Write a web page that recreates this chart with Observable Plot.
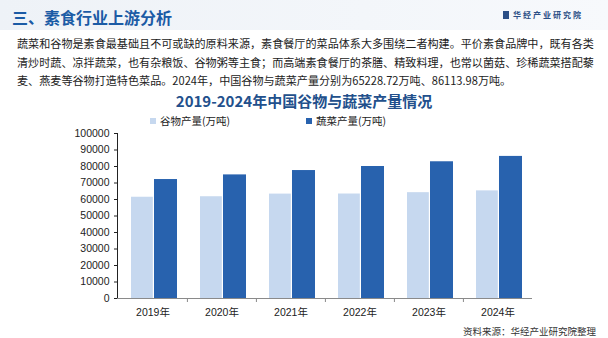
<!DOCTYPE html>
<html><head><meta charset="utf-8">
<script src="https://cdn.jsdelivr.net/npm/d3@7"></script>
<script src="https://cdn.jsdelivr.net/npm/@observablehq/plot@0.6"></script>
<style>
html,body{margin:0;padding:0;background:#fff;}
#wrap{position:relative;width:608px;height:338px;overflow:hidden;font-family:"Liberation Sans","Noto Sans CJK SC",sans-serif;}
.abs{position:absolute;white-space:nowrap;}
#band{left:0;top:0;width:608px;height:30px;background:linear-gradient(90deg,#eef2f7 0%,#f3f6fa 60%,#f7f9fc 100%);}
#head{left:12px;top:5px;font-size:16px;font-weight:bold;color:#1b5ba5;font-family:"Noto Sans CJK SC",sans-serif;}
#logo{left:503px;top:9px;font-size:8px;color:#2b4f86;letter-spacing:2px;font-weight:bold;font-family:"Noto Sans CJK SC",sans-serif;}
#logo span.ic{display:inline-block;width:6px;height:8px;background:#2b4f86;margin-right:4px;vertical-align:-1px;}
#para{left:17px;top:34px;font-size:11.1px;line-height:18.5px;color:#222;font-family:"Noto Sans CJK SC",sans-serif;}
#title{left:0;width:608px;top:90px;text-align:center;font-size:15px;font-weight:bold;color:#22508c;font-family:"Noto Sans CJK SC",sans-serif;}
#legend{left:0;top:113px;font-size:10.5px;color:#222;font-family:"Noto Sans CJK SC",sans-serif;}
.lg{position:absolute;white-space:nowrap;}
.sw{display:inline-block;width:6px;height:6px;margin-right:4px;vertical-align:1px;}
#src{left:463px;top:324px;font-size:9.5px;color:#333;font-family:"Noto Sans CJK SC",sans-serif;}
#chart{left:0;top:120px;}
</style></head>
<body><div id="wrap">
<div id="band" class="abs"></div>
<div id="head" class="abs">三、素食行业上游分析</div>
<div id="logo" class="abs"><span class="ic"></span>华经产业研究院</div>
<div id="para" class="abs">蔬菜和谷物是素食最基础且不可或缺的原料来源，素食餐厅的菜品体系大多围绕二者构建。平价素食品牌中，既有各类<br>清炒时蔬、凉拌蔬菜，也有杂粮饭、谷物粥等主食；而高端素食餐厅的茶膳、精致料理，也常以菌菇、珍稀蔬菜搭配藜<br>麦、燕麦等谷物打造特色菜品。2024年，中国谷物与蔬菜产量分别为65228.72万吨、86113.98万吨。</div>
<div id="title" class="abs">2019-2024年中国谷物与蔬菜产量情况</div>
<div id="legend" class="abs"></div>
<div id="chart" class="abs"></div>
<div id="src" class="abs">资料来源：华经产业研究院整理</div>
</div>
<script>
const years = ["2019年","2020年","2021年","2022年","2023年","2024年"];
const grain = [61369.67, 61674.31, 63275.74, 63324.26, 64143.00, 65228.72];
const vegetables = [72102.56, 74912.90, 77548.78, 79997.22, 82868.06, 86113.98];
const seriesNames = ["谷物产量(万吨)", "蔬菜产量(万吨)"];
const yTicks = [0,10000,20000,30000,40000,50000,60000,70000,80000,90000,100000];
const colors = ["#c6d8ef", "#2862ae"];

const rows = years.map((year, i) => ({year, grain: grain[i], veg: vegetables[i]}));

// legend
const legend = document.getElementById("legend");
const legendX = [150, 306];
seriesNames.forEach((n, i) => {
  const d = document.createElement("div");
  d.className = "lg";
  d.style.left = legendX[i] + "px";
  d.innerHTML = `<span class="sw" style="background:${colors[i]}"></span>${n}`;
  legend.appendChild(d);
});

const band = (608 - 117 - 76) / years.length;

const chart = Plot.plot({
  width: 608,
  height: 218,
  marginTop: 13,
  marginBottom: 40,
  marginLeft: 117,
  marginRight: 76,
  style: {fontFamily: "Liberation Sans, Noto Sans CJK SC, sans-serif", fontSize: "10.5px", color: "#222", background: "transparent"},
  x: {domain: years, padding: 0, label: null, tickSize: 0, tickPadding: 10},
  y: {domain: [0, 100000], ticks: yTicks, tickFormat: d => String(d), label: null, tickSize: 3, tickPadding: 5, line: true},
  marks: [
    Plot.barY(rows, {x: "year", y: "grain", fill: colors[0], insetLeft: 13, insetRight: band - 35}),
    Plot.barY(rows, {x: "year", y: "veg", fill: colors[1], insetLeft: 36, insetRight: 10}),
    Plot.ruleY([0], {stroke: "#8a8a8a"}),
    Plot.tickX(years.slice(1), {x: d => d, dx: -band / 2, stroke: "#8a8a8a", insetTop: 165, insetBottom: -4})
  ]
});
document.getElementById("chart").appendChild(chart);
</script>
</body></html>
